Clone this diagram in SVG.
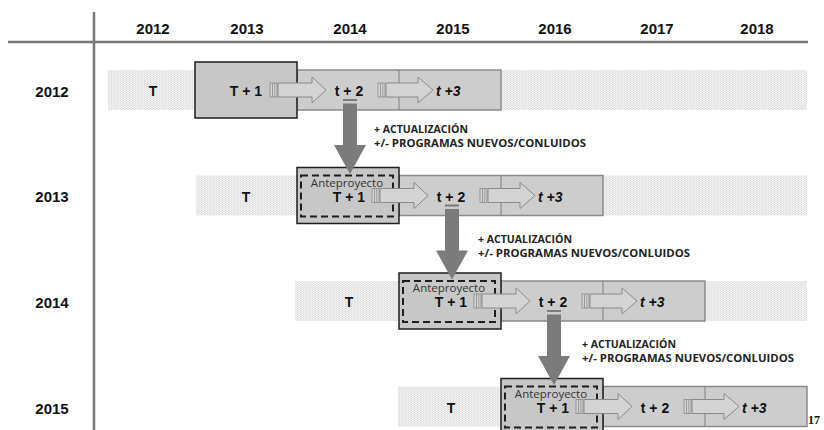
<svg xmlns="http://www.w3.org/2000/svg" width="824" height="430" viewBox="0 0 824 430">
<defs>
<pattern id="hatch" width="3" height="2" patternUnits="userSpaceOnUse">
<rect width="3" height="2" fill="#f1f1f1"/>
<rect x="0" width="1" height="1" fill="#d8d8d8"/>
<rect x="1.5" y="1" width="1" height="1" fill="#dcdcdc"/>
</pattern>
<g id="harrow">
<rect x="0" y="-7" width="7" height="14" fill="#d4d4d4" stroke="#8a8a8a" stroke-width="0.8"/>
<line x1="2.5" y1="-7" x2="2.5" y2="7" stroke="#8a8a8a" stroke-width="0.8"/>
<line x1="4.8" y1="-7" x2="4.8" y2="7" stroke="#8a8a8a" stroke-width="0.8"/>
</g>
</defs>
<style>
.hdr{font-family:"Liberation Sans",Arial,sans-serif;font-weight:bold;font-size:15px;fill:#111;text-anchor:middle}
.lbl{font-family:"Liberation Sans",Arial,sans-serif;font-weight:bold;font-size:14px;fill:#111;text-anchor:middle}
.it{font-family:"Liberation Sans",Arial,sans-serif;font-weight:bold;font-style:italic;font-size:14px;fill:#111}
.ante{font-family:"Open Sans",sans-serif;font-size:11.5px;fill:#333;text-anchor:middle}
.note{font-family:"Open Sans",sans-serif;font-weight:bold;font-size:10.5px;fill:#222}
.band{fill:url(#hatch)}
.dark{fill:#c7c7c7;stroke:#1e1e1e;stroke-width:1.5}
.light{fill:#cdcdcd;stroke:#8a8a8a;stroke-width:1.5}
.div{stroke:#8a8a8a;stroke-width:1.2}
.dash{fill:none;stroke:#1e1e1e;stroke-width:2;stroke-dasharray:7,4}
.ha{fill:#d4d4d4;stroke:#8a8a8a;stroke-width:1}
.va{fill:#7b7b7b}
.axis{stroke:#7a7a7a;stroke-width:2.5}
</style>

<g id="axes">
<line class="axis" x1="94" y1="12" x2="94" y2="430"/>
<line class="axis" x1="8" y1="42" x2="808" y2="42"/>
<text class="hdr" x="153" y="34">2012</text>
<text class="hdr" x="247" y="34">2013</text>
<text class="hdr" x="350" y="34">2014</text>
<text class="hdr" x="453" y="34">2015</text>
<text class="hdr" x="555" y="34">2016</text>
<text class="hdr" x="657" y="34">2017</text>
<text class="hdr" x="757" y="34">2018</text>
<text class="hdr" x="52" y="97">2012</text>
<text class="hdr" x="52" y="202">2013</text>
<text class="hdr" x="52" y="308">2014</text>
<text class="hdr" x="52" y="414">2015</text>
</g>

<g id="bands">
<rect class="band" x="108" y="70" width="699" height="40"/>
<rect class="band" x="196" y="175.5" width="611" height="40"/>
<rect class="band" x="295" y="281" width="512" height="40"/>
<rect class="band" x="398" y="386.5" width="103" height="40"/>
</g>

<g id="row2012">
<text class="lbl" x="153" y="96">T</text>
<rect class="light" x="297" y="70" width="204" height="40"/>
<line class="div" x1="399" y1="70" x2="399" y2="110"/>
<rect class="dark" x="195" y="62" width="102" height="56"/>
<text class="lbl" x="246" y="96">T + 1</text>
<text class="lbl" x="349" y="96">t + 2</text>
<text class="it" x="436" y="96">t +3</text>
</g>

<g id="row2013" transform="translate(102,105.5)">
<text class="lbl" x="144" y="96">T</text>
<rect class="light" x="297" y="70" width="204" height="40"/>
<line class="div" x1="399" y1="70" x2="399" y2="110"/>
<rect class="dark" x="195" y="62" width="102" height="56"/>
<rect class="dash" x="199" y="70" width="92" height="41"/>
<text class="ante" x="245" y="81">Anteproyecto</text>
<text class="lbl" x="247" y="96">T + 1</text>
<text class="lbl" x="349" y="96">t + 2</text>
<text class="it" x="436" y="96">t +3</text>
</g>

<g id="row2014" transform="translate(204,211)">
<text class="lbl" x="145" y="96">T</text>
<rect class="light" x="297" y="70" width="204" height="40"/>
<line class="div" x1="399" y1="70" x2="399" y2="110"/>
<rect class="dark" x="195" y="62" width="102" height="56"/>
<rect class="dash" x="199" y="70" width="92" height="41"/>
<text class="ante" x="245" y="81">Anteproyecto</text>
<text class="lbl" x="247" y="96">T + 1</text>
<text class="lbl" x="349" y="96">t + 2</text>
<text class="it" x="436" y="96">t +3</text>
</g>

<g id="row2015" transform="translate(306,316.5)">
<text class="lbl" x="145" y="96">T</text>
<rect class="light" x="297" y="70" width="204" height="40"/>
<line class="div" x1="399" y1="70" x2="399" y2="110"/>
<rect class="dark" x="195" y="62" width="102" height="56"/>
<rect class="dash" x="199" y="70" width="92" height="41"/>
<text class="ante" x="245" y="81">Anteproyecto</text>
<text class="lbl" x="247" y="96">T + 1</text>
<text class="lbl" x="349" y="96">t + 2</text>
<text class="it" x="436" y="96">t +3</text>
</g>

<g id="connectors">
<g id="h-arrows">
<g transform="translate(0,90)">
<use href="#harrow" x="270"/><polygon class="ha" points="278,-7 312,-7 312,-13 326,0 312,13 312,7 278,7"/>
<use href="#harrow" x="378"/><polygon class="ha" points="386,-7 418,-7 418,-13 433,0 418,13 418,7 386,7"/>
</g>
<g transform="translate(102,195.5)">
<use href="#harrow" x="270"/><polygon class="ha" points="278,-7 312,-7 312,-13 326,0 312,13 312,7 278,7"/>
<use href="#harrow" x="378"/><polygon class="ha" points="386,-7 418,-7 418,-13 433,0 418,13 418,7 386,7"/>
</g>
<g transform="translate(204,301)">
<use href="#harrow" x="270"/><polygon class="ha" points="278,-7 312,-7 312,-13 326,0 312,13 312,7 278,7"/>
<use href="#harrow" x="378"/><polygon class="ha" points="386,-7 418,-7 418,-13 433,0 418,13 418,7 386,7"/>
</g>
<g transform="translate(306,406.5)">
<use href="#harrow" x="270"/><polygon class="ha" points="278,-7 312,-7 312,-13 326,0 312,13 312,7 278,7"/>
<use href="#harrow" x="378"/><polygon class="ha" points="386,-7 418,-7 418,-13 433,0 418,13 418,7 386,7"/>
</g>
</g>
<g id="v-arrow-1">
<rect class="va" x="343" y="99" width="14" height="2"/>
<polygon class="va" points="343,103.5 357,103.5 357,145 366,145 350,174 334,145 343,145"/>
</g>
<g id="v-arrow-2" transform="translate(102,105.5)">
<rect class="va" x="343" y="99" width="14" height="2"/>
<polygon class="va" points="343,103.5 357,103.5 357,145 366,145 350,174 334,145 343,145"/>
</g>
<g id="v-arrow-3" transform="translate(204,211)">
<rect class="va" x="343" y="99" width="14" height="2"/>
<polygon class="va" points="343,103.5 357,103.5 357,145 366,145 350,174 334,145 343,145"/>
</g>
</g>

<g id="notes">
<text class="note" x="374" y="133" textLength="94" lengthAdjust="spacingAndGlyphs">+ ACTUALIZACIÓN</text>
<text class="note" x="374" y="147" textLength="212" lengthAdjust="spacingAndGlyphs">+/- PROGRAMAS NUEVOS/CONLUIDOS</text>
<text class="note" x="478" y="243" textLength="94" lengthAdjust="spacingAndGlyphs">+ ACTUALIZACIÓN</text>
<text class="note" x="478" y="257" textLength="212" lengthAdjust="spacingAndGlyphs">+/- PROGRAMAS NUEVOS/CONLUIDOS</text>
<text class="note" x="582" y="348" textLength="94" lengthAdjust="spacingAndGlyphs">+ ACTUALIZACIÓN</text>
<text class="note" x="582" y="362" textLength="212" lengthAdjust="spacingAndGlyphs">+/- PROGRAMAS NUEVOS/CONLUIDOS</text>
<text x="808" y="424" font-family="'Liberation Serif',serif" font-size="12" font-weight="bold" fill="#111">17</text>
</g>
</svg>
